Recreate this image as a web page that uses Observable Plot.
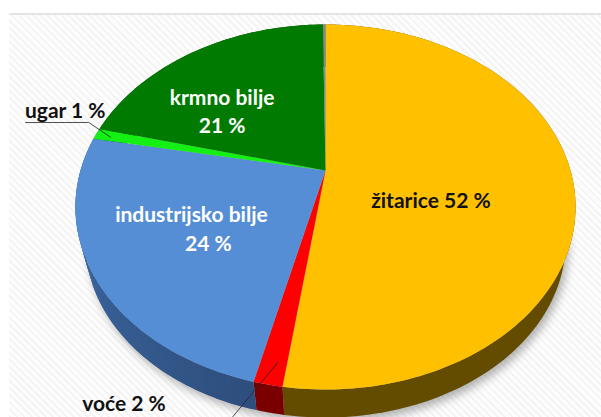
<!DOCTYPE html>
<html>
<head>
<meta charset="utf-8">
<script src="https://cdn.jsdelivr.net/npm/d3@7"></script>
<script src="https://cdn.jsdelivr.net/npm/@observablehq/plot@0.6"></script>
<style>
html,body{margin:0;padding:0;background:#fff;}
#wrap{position:relative;width:601px;height:417px;overflow:hidden;}
#bg{position:absolute;left:9px;top:13px;right:0;bottom:0;border-top:2px solid #e4e4e4;
background:repeating-linear-gradient(45deg,#f4f4f4 0,#f4f4f4 2px,#fdfdfd 2px,#fdfdfd 5px);}
#chart{position:absolute;left:0;top:0;}
</style>
</head>
<body>
<div id="wrap"><div id="bg"></div><div id="chart"></div></div>
<script>
// Slices, clockwise from the top of the pie (share of the full circle, %)
const names  = ["žitarice", "voće", "industrijsko bilje", "ugar", "krmno bilje", "ostalo"];
const shares = [52.25, 1.55, 24.2, 1.0, 20.8, 0.2];
const topColors  = ["#ffc000", "#ff0000", "#558ed5", "#14f014", "#007a00", "#7f8c8d"];
// Side wall colour at the start and at the end of each slice
const wallFrom = ["#634b00", "#7a0000", "#2e4f7e", "#0a780a", "#003d00", "#404040"];
const wallTo   = ["#634b00", "#7a0000", "#4272b2", "#0a780a", "#003d00", "#404040"];

// Labels: text, position in pie terms (share round the circle, radius), colour
const labelTexts  = ["žitarice 52 %", "industrijsko bilje", "24 %", "krmno bilje\n21 %", "ugar 1 %", "voće 2 %"];
const labelShare  = [30.7, 68.35, 63.8, 85.9, 80.1, 58.85];
const labelRadius = [0.445, 0.571, 0.58, 0.585, 1.204, 1.232];
const labelColors = ["#111", "#fff", "#fff", "#fff", "#111", "#111"];

// Leader lines (share, radius)
const leaderUgar = [[78.5, 1.327], [79.4, 1.063], [78.4, 0.933]];
const leaderVoce = [[52.8, 0.913], [54.2, 1.139]];

// Perspective view of the pie disc
const view = {a: 245, b: 175.2, k: 0.2, wallScale: 0.96, wallDrop: 36.76};
const project = (share, r = 1) => {
  const t = share / 100 * 2 * Math.PI;
  const u = r * Math.sin(t), v = r * Math.cos(t), d = 1 + view.k * v;
  return [view.a * u / d, view.b * v / d];
};
const lower = ([x, y]) => [x * view.wallScale, y * view.wallScale - view.wallDrop];

const arc = (from, to) => {
  const n = Math.max(2, Math.ceil((to - from) * 3));
  return d3.range(n + 1).map(i => project(from + (to - from) * i / n));
};

const tops = [], wallPieces = [];
let start = 0;
shares.forEach((s, i) => {
  const rim = arc(start, start + s);
  [[0, 0], ...rim].forEach(([x, y]) => tops.push({name: names[i], x, y}));
  const ramp = d3.interpolateRgb(wallTo[i], wallFrom[i]);
  const steps = wallFrom[i] === wallTo[i] ? 1 : rim.length - 1;
  const per = (rim.length - 1) / steps;
  // Drawn from the far end back, each piece overlapping the one before it, so no seams show
  d3.range(steps - 1, -1, -1).forEach(j => {
    const part = rim.slice(j * per, Math.min((j + 1) * per + 2, rim.length));
    const color = ramp(steps === 1 ? 0 : 1 - j / (steps - 1));
    wallPieces.push({color, points: [...part, ...part.slice().reverse().map(lower)].map(([x, y]) => ({x, y}))});
  });
  start += s;
});
const shadow = arc(0, 100).map(lower).map(([x, y]) => ({x: x + 3, y: y - 5}));

const labels = labelTexts.map((text, i) => {
  const [x, y] = project(labelShare[i], labelRadius[i]);
  return {text, x, y, color: labelColors[i]};
});
const polar = pts => pts.map(([s, r]) => { const [x, y] = project(s, r); return {x, y}; });

const plot = Plot.plot({
  width: 601, height: 417, margin: 0,
  x: {domain: [-325, 276], range: [0, 601], axis: null},
  y: {domain: [-247, 170], range: [417, 0], axis: null},
  color: {domain: names, range: topColors},
  style: {background: "transparent", overflow: "hidden"},
  marks: [
    Plot.line(shadow, {x: "x", y: "y", fill: "#777", fillOpacity: 0.55, stroke: "none", imageFilter: "blur(4px)"}),
    ...wallPieces.map(p =>
      Plot.line(p.points, {x: "x", y: "y", fill: p.color, stroke: "none"})),
    Plot.line(tops, {x: "x", y: "y", z: "name", fill: "name", stroke: "none"}),
    Plot.line(polar(leaderUgar), {x: "x", y: "y", stroke: "#222", strokeWidth: 0.8}),
    Plot.line(polar(leaderVoce), {x: "x", y: "y", stroke: "#223", strokeWidth: 0.8}),
    Plot.text(labels, {
      x: "x", y: "y", text: "text", fill: d => d.color,
      fontFamily: "Lato", fontWeight: 700, fontSize: 21, lineHeight: 1.33
    })
  ]
});
document.getElementById("chart").appendChild(plot);
</script>
</body>
</html>
